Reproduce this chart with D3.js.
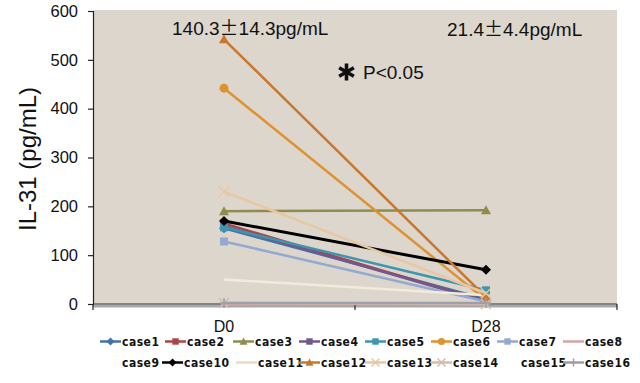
<!DOCTYPE html>
<html lang="en">
<head>
<meta charset="UTF-8" />
<title>IL-31 D0 vs D28</title>
<script src="https://cdn.jsdelivr.net/npm/d3@7"></script>
<style>
  html, body { margin: 0; padding: 0; background: #fff; }
  svg { display: block; font-family: Arial, "Liberation Sans", sans-serif; }
</style>
</head>
<body>
<svg id="chart" width="640" height="383"></svg>
<script>
// data
const timepoints = ["D0", "D28"];
const caseNames = ["case1","case2","case3","case4","case5","case6","case7","case8",
                   "case9","case10","case11","case12","case13","case14","case15","case16"];
const d0Values  = [155, 165, 190, 160, 157, 442, 128, 0, 0, 170, 50, 542, 230, 2, 0, 2];
const d28Values = [10, 5, 192, 5, 28, 8, 5, 0, 0, 70, 18, 14, 22, 0, 0, 2];
const caseColors = ["#4572a7","#aa4643","#8f8c4e","#71588f","#3d96ae","#de9230","#93a9cf","#d9a0a0",
                    "none","#000000","#f3eadb","#c9772c","#e8c7a3","#d6bcae","none","#9ea0a8"];
const caseMarkers = ["diamond","square","triangle","square","square","circle","square","none",
                     "none","diamond","none","triangle","cross","cross","none","plus"];
const yTicks = [0, 100, 200, 300, 400, 500, 600];
const meanLabels = [["140.3", "14.3pg/mL"], ["21.4", "4.4pg/mL"]];

const svg = d3.select("#chart");
const plotL = 93, plotR = 617, plotT = 11, plotB = 304;

const x = d3.scaleBand().domain(timepoints).range([plotL, plotR]);
const y = d3.scaleLinear().domain([0, 600]).range([plotB, plotT]);

// plot background
svg.append("rect")
  .attr("x", plotL).attr("y", plotT - 1)
  .attr("width", plotR - plotL).attr("height", plotB - plotT + 1)
  .attr("fill", "#ddd6cd");

// y axis
const yAxis = svg.append("g")
  .attr("transform", `translate(${plotL},0)`)
  .call(d3.axisLeft(y).tickValues(yTicks).tickSize(5).tickPadding(10));
yAxis.select(".domain").attr("stroke", "#222").attr("stroke-width", 1.2);
yAxis.selectAll(".tick line").attr("stroke", "#222").attr("stroke-width", 1.2);
yAxis.selectAll("text").attr("font-size", 16.5).attr("fill", "#111")
  .attr("font-family", "Arial, 'Liberation Sans', sans-serif");

// x axis
svg.append("line")
  .attr("x1", plotL).attr("x2", plotR).attr("y1", plotB + 2).attr("y2", plotB + 2)
  .attr("stroke", "#a8a8a8").attr("stroke-width", 3);
svg.append("line")
  .attr("x1", plotL).attr("x2", plotR).attr("y1", plotB).attr("y2", plotB)
  .attr("stroke", "#333").attr("stroke-width", 1.2);
const xEdges = [plotL, plotL + x.bandwidth(), plotR];
svg.selectAll("line.xtick").data(xEdges).enter().append("line")
  .attr("class", "xtick")
  .attr("x1", d => d).attr("x2", d => d)
  .attr("y1", plotB).attr("y2", plotB + 6)
  .attr("stroke", "#222").attr("stroke-width", 1.2);
svg.selectAll("text.xlab").data(timepoints).enter().append("text")
  .attr("class", "xlab")
  .attr("x", d => x(d) + x.bandwidth() / 2)
  .attr("y", 332)
  .attr("text-anchor", "middle")
  .attr("font-size", 16)
  .attr("fill", "#111")
  .text(d => d);

// y label
svg.append("text")
  .attr("transform", "translate(36,159) rotate(-90)")
  .attr("text-anchor", "middle")
  .attr("font-size", 24)
  .attr("fill", "#111")
  .text("IL-31 (pg/mL)");

// markers
function drawMarker(g, type, color, cx, cy, s) {
  if (type === "diamond") {
    g.append("path").attr("d", `M${cx},${cy - s}L${cx + s},${cy}L${cx},${cy + s}L${cx - s},${cy}Z`).attr("fill", color);
  } else if (type === "square") {
    g.append("rect").attr("x", cx - s * 0.8).attr("y", cy - s * 0.8)
      .attr("width", s * 1.6).attr("height", s * 1.6).attr("fill", color);
  } else if (type === "triangle") {
    g.append("path").attr("d", `M${cx},${cy - s}L${cx + s},${cy + s * 0.8}L${cx - s},${cy + s * 0.8}Z`).attr("fill", color);
  } else if (type === "circle") {
    g.append("circle").attr("cx", cx).attr("cy", cy).attr("r", s * 0.9).attr("fill", color);
  } else if (type === "cross") {
    g.append("path").attr("d", `M${cx - s},${cy - s}L${cx + s},${cy + s}M${cx - s},${cy + s}L${cx + s},${cy - s}`)
      .attr("stroke", color).attr("stroke-width", 1.5);
  } else if (type === "plus") {
    g.append("path").attr("d", `M${cx - s},${cy}L${cx + s},${cy}M${cx},${cy - s}L${cx},${cy + s}`)
      .attr("stroke", color).attr("stroke-width", 1.5);
  }
}

// case lines
const series = caseNames.map((name, i) => ({
  name, color: caseColors[i], marker: caseMarkers[i],
  values: [d0Values[i], d28Values[i]]
}));
const line = d3.line()
  .x((d, j) => x(timepoints[j]) + x.bandwidth() / 2)
  .y(d => y(d));

series.forEach(s => {
  if (s.color === "none") return;
  const g = svg.append("g");
  g.append("path")
    .attr("d", line(s.values))
    .attr("fill", "none")
    .attr("stroke", s.color)
    .attr("stroke-width", s.name === "case10" ? 3 : 2.5);
  s.values.forEach((v, j) => {
    drawMarker(g, s.marker, s.color, x(timepoints[j]) + x.bandwidth() / 2, y(v), 5);
  });
});

// annotations: mean ± sd over each time point
[[172, 35], [447, 36]].forEach(([tx, ty], i) => {
  const t = svg.append("text").attr("x", tx).attr("y", ty)
    .attr("font-size", 19).attr("fill", "#111");
  t.append("tspan").text(meanLabels[i][0]);
  t.append("tspan").attr("font-family", "'Noto Sans CJK JP', sans-serif").text("\u00b1");
  t.append("tspan").text(meanLabels[i][1]);
});
// heavy asterisk
const ast = svg.append("g").attr("transform", "translate(346.5,72)");
[90, 30, 150].forEach(a => {
  const r = 8.5, dx = r * Math.cos(a * Math.PI / 180), dy = r * Math.sin(a * Math.PI / 180);
  ast.append("line").attr("x1", -dx).attr("y1", -dy).attr("x2", dx).attr("y2", dy)
    .attr("stroke", "#111").attr("stroke-width", 3.6);
});
svg.append("text").attr("x", 363).attr("y", 79)
  .attr("font-size", 19).attr("fill", "#111").text("P<0.05");

// legend
const legendX = [[100, 165, 233, 299, 365, 431, 497, 563],
                 [100, 162, 236, 299, 365, 431, 499, 563]];
const legendRows = [346, 367];
series.forEach((s, i) => {
  const row = Math.floor(i / 8), col = i % 8;
  const lx = legendX[row][col], ly = legendRows[row];
  const g = svg.append("g");
  if (s.color !== "none") {
    g.append("line").attr("x1", lx).attr("x2", lx + 21).attr("y1", ly - 4.5).attr("y2", ly - 4.5)
      .attr("stroke", s.name === "case11" ? "#eadbc0" : s.color).attr("stroke-width", 2.5);
    drawMarker(g, s.marker, s.color, lx + 10.5, ly - 4.5, 4);
  }
  g.append("text")
    .attr("x", lx + 22).attr("y", ly)
    .attr("font-size", 12)
    .attr("font-weight", "bold")
    .attr("letter-spacing", 0.5)
    .attr("font-family", "'Liberation Sans Narrow', 'DejaVu Sans Condensed', Arial, sans-serif")
    .attr("fill", "#111")
    .text(s.name);
});
</script>
</body>
</html>
